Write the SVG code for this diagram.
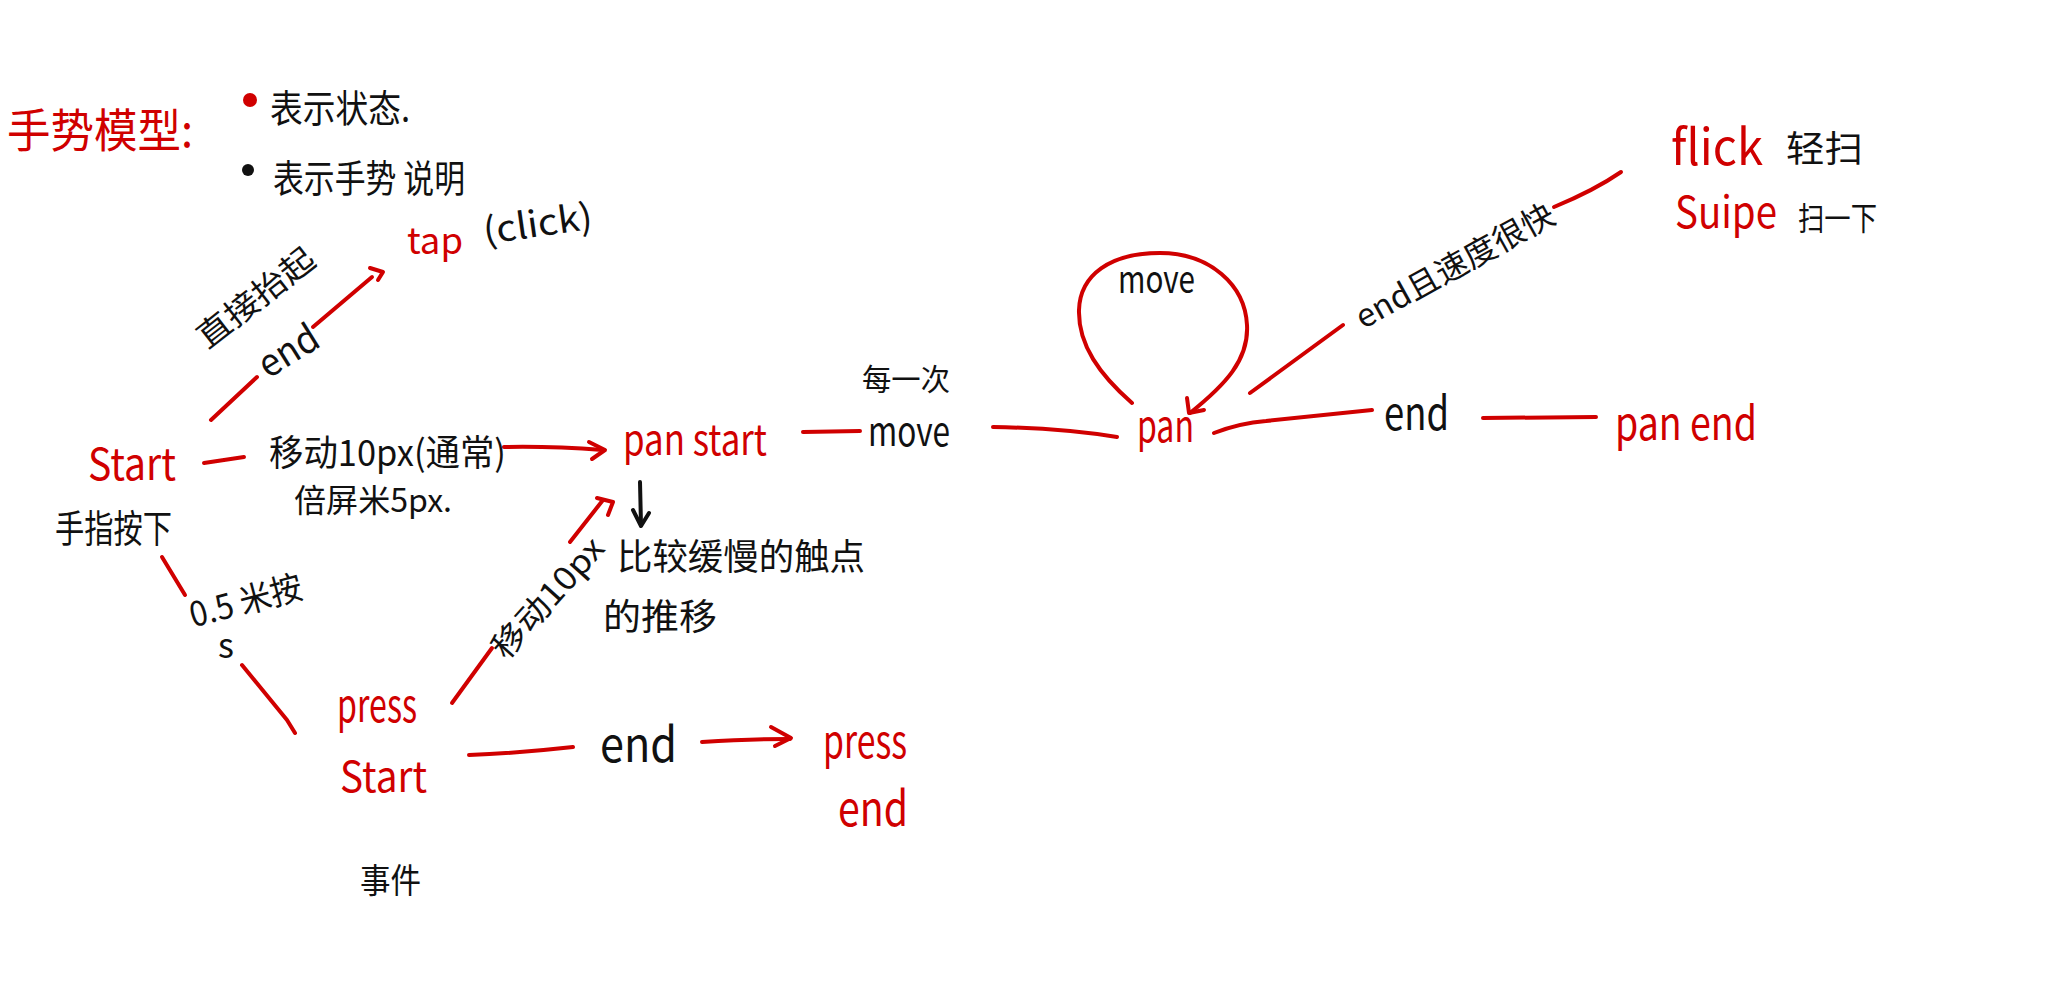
<svg xmlns="http://www.w3.org/2000/svg" width="2068" height="1000" viewBox="0 0 2068 1000">
<style>
text { font-family: "Noto Sans CJK SC", "Noto Sans", sans-serif; }
.r { fill: #d00000; }
.k { fill: #111111; }
.ln { stroke: #d00000; stroke-width: 4; fill: none; stroke-linecap: round; stroke-linejoin: round; }
.bk { stroke: #111111; stroke-width: 4; fill: none; stroke-linecap: round; stroke-linejoin: round; }
</style>
<rect width="2068" height="1000" fill="#ffffff"/>

<g id="legend">
  <text class="r" x="7" y="147" font-size="46" textLength="186" lengthAdjust="spacingAndGlyphs">手势模型:</text>
  <circle cx="250" cy="100" r="7" fill="#d00000"/>
  <text class="k" x="270" y="122" font-size="38" textLength="140" lengthAdjust="spacingAndGlyphs">表示状态.</text>
  <circle cx="248" cy="170" r="6" fill="#111111"/>
  <text class="k" x="273" y="192" font-size="38" textLength="192" lengthAdjust="spacingAndGlyphs">表示手势 说明</text>
</g>

<g id="connectors">
  <path class="ln" d="M211,420 L257,377"/>
  <path class="ln" d="M313,327 L372,277"/>
  <path class="ln" d="M370,268 L383,272 L378,280"/>
  <path class="ln" d="M204,463 L244,457"/>
  <path class="ln" d="M504,447 Q550,446 603,450"/>
  <path class="ln" d="M589,442 L605,450 L592,459"/>
  <path class="ln" d="M162,557 L185,595"/>
  <path class="ln" d="M242,665 L287,720 L295,733"/>
  <path class="ln" d="M452,703 L492,648"/>
  <path class="ln" d="M570,542 L603,500"/>
  <path class="ln" d="M597,498 L613,502 L608,515"/>
  <path class="bk" d="M640,482 L641,525"/>
  <path class="bk" d="M633,510 L641,526 L649,513"/>
  <path class="ln" d="M803,432 L860,431"/>
  <path class="ln" d="M993,427 Q1060,428 1117,437"/>
  <path class="ln" d="M1132,403 C1100,375 1078,345 1079,310 C1080,275 1110,253 1160,253 C1210,253 1245,285 1247,325 C1249,360 1225,385 1190,413"/>
  <path class="ln" d="M1187,398 L1189,413 L1204,410"/>
  <path class="ln" d="M1214,433 Q1240,423 1266,421 L1372,410"/>
  <path class="ln" d="M1483,418 L1596,417"/>
  <path class="ln" d="M1250,393 L1343,325"/>
  <path class="ln" d="M1554,207 Q1595,190 1621,172"/>
  <path class="ln" d="M469,755 Q520,753 573,747"/>
  <path class="ln" d="M702,742 Q750,739 790,739"/>
  <path class="ln" d="M771,727 L791,738 L775,746"/>
</g>

<g id="edge-labels">
  <text class="k" font-size="32" text-anchor="middle" transform="translate(256,298) rotate(-38)" y="11" textLength="140" lengthAdjust="spacingAndGlyphs">直接抬起</text>
  <text class="k" font-size="38" text-anchor="middle" transform="translate(289,352) rotate(-32)" y="12" textLength="64" lengthAdjust="spacingAndGlyphs">end</text>
  <text class="k" x="269" y="466" font-size="36" textLength="237" lengthAdjust="spacingAndGlyphs">移动10px(通常)</text>
  <text class="k" x="294" y="512" font-size="32" textLength="158" lengthAdjust="spacingAndGlyphs">倍屏米5px.</text>
  <text class="k" font-size="34" text-anchor="middle" transform="translate(246,602) rotate(-15)" y="11" textLength="115" lengthAdjust="spacingAndGlyphs">0.5 米按</text>
  <text class="k" x="218" y="658" font-size="34">s</text>
  <text class="k" font-size="32" text-anchor="middle" transform="translate(548,598) rotate(-48)" y="11" textLength="150" lengthAdjust="spacingAndGlyphs">移动10px</text>
  <text class="k" x="617" y="570" font-size="36" textLength="248" lengthAdjust="spacingAndGlyphs">比较缓慢的触点</text>
  <text class="k" x="603" y="630" font-size="36" textLength="114" lengthAdjust="spacingAndGlyphs">的推移</text>
  <text class="k" x="862" y="390" font-size="30" textLength="88" lengthAdjust="spacingAndGlyphs">每一次</text>
  <text class="k" x="868" y="446" font-size="40" textLength="82" lengthAdjust="spacingAndGlyphs">move</text>
  <text class="k" x="1118" y="293" font-size="38" textLength="77" lengthAdjust="spacingAndGlyphs">move</text>
  <text class="k" x="1384" y="430" font-size="46" textLength="65" lengthAdjust="spacingAndGlyphs">end</text>
  <text class="k" font-size="32" text-anchor="middle" transform="translate(1455,266) rotate(-29)" y="11" textLength="222" lengthAdjust="spacingAndGlyphs">end且速度很快</text>
  <text class="k" x="600" y="762" font-size="48" textLength="77" lengthAdjust="spacingAndGlyphs">end</text>
  <text class="k" x="360" y="893" font-size="34" textLength="61" lengthAdjust="spacingAndGlyphs">事件</text>
</g>

<g id="node-start">
  <text class="r" x="88" y="480" font-size="44" textLength="88" lengthAdjust="spacingAndGlyphs">Start</text>
  <text class="k" x="55" y="542" font-size="38" textLength="117" lengthAdjust="spacingAndGlyphs">手指按下</text>
</g>
<g id="node-tap">
  <text class="r" x="407" y="254" font-size="36" textLength="56" lengthAdjust="spacingAndGlyphs">tap</text>
  <text class="k" font-size="36" transform="translate(485,244) rotate(-8)" textLength="110" lengthAdjust="spacingAndGlyphs">(click)</text>
</g>
<g id="node-panstart">
  <text class="r" x="623" y="455" font-size="42" textLength="144" lengthAdjust="spacingAndGlyphs">pan start</text>
</g>
<g id="node-pan">
  <text class="r" x="1137" y="442" font-size="44" textLength="57" lengthAdjust="spacingAndGlyphs">pan</text>
</g>
<g id="node-panend">
  <text class="r" x="1615" y="440" font-size="46" textLength="142" lengthAdjust="spacingAndGlyphs">pan end</text>
</g>
<g id="node-flick">
  <text class="r" x="1671" y="165" font-size="50" textLength="92" lengthAdjust="spacingAndGlyphs">flick</text>
  <text class="k" x="1786" y="162" font-size="36" textLength="77" lengthAdjust="spacingAndGlyphs">轻扫</text>
  <text class="r" x="1675" y="228" font-size="44" textLength="102" lengthAdjust="spacingAndGlyphs">Suipe</text>
  <text class="k" x="1798" y="230" font-size="32" textLength="79" lengthAdjust="spacingAndGlyphs">扫一下</text>
</g>
<g id="node-pressstart">
  <text class="r" x="337" y="722" font-size="46" textLength="80" lengthAdjust="spacingAndGlyphs">press</text>
  <text class="r" x="340" y="792" font-size="42" textLength="87" lengthAdjust="spacingAndGlyphs">Start</text>
</g>
<g id="node-pressend">
  <text class="r" x="823" y="758" font-size="46" textLength="84" lengthAdjust="spacingAndGlyphs">press</text>
  <text class="r" x="838" y="826" font-size="48" textLength="70" lengthAdjust="spacingAndGlyphs">end</text>
</g>
</svg>
